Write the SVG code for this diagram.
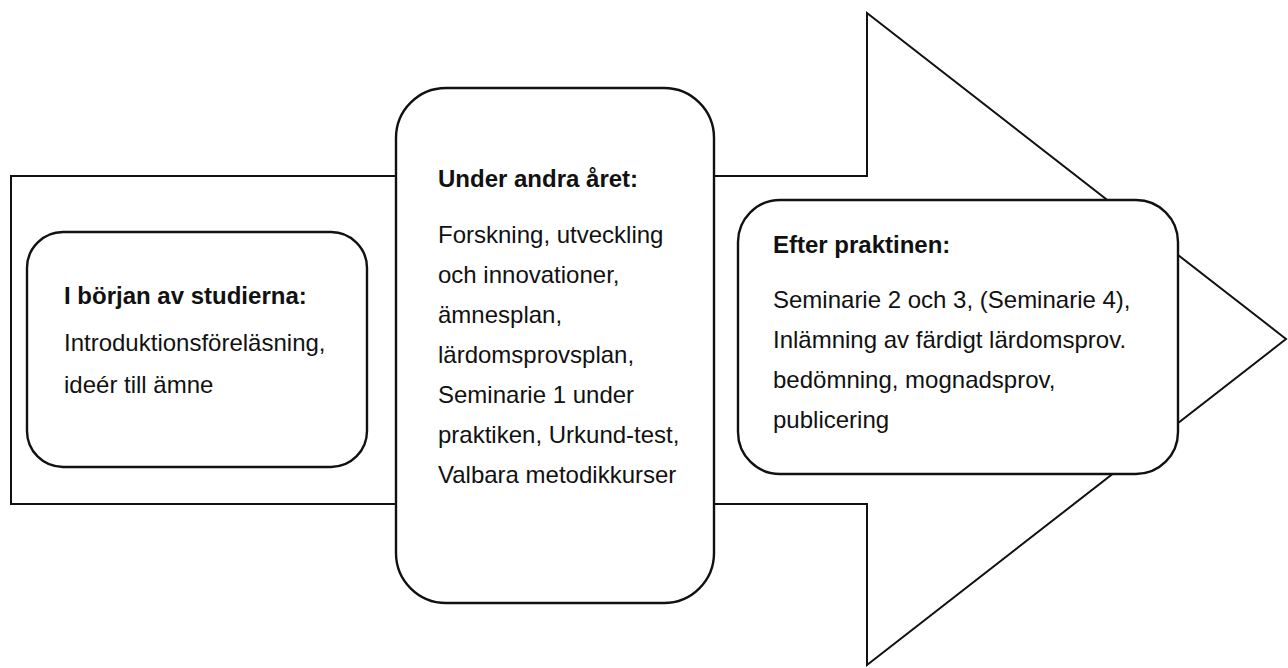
<svg xmlns="http://www.w3.org/2000/svg" width="1288" height="668" viewBox="0 0 1288 668">
  <style>
    .shape { fill: #ffffff; stroke: #111111; stroke-width: 2; stroke-linejoin: miter; }
    .box { fill: #ffffff; stroke: #111111; stroke-width: 2.4; }
    .t { font-family: "Liberation Sans", Arial, sans-serif; font-size: 24px; fill: #111111; }
    .b { font-weight: bold; }
  </style>
  <rect width="1288" height="668" fill="#ffffff"/>
  <g id="connectors">
    <polygon id="big-arrow" class="shape" points="11,176 867,176 867,13 1286,339 867,665 867,504 11,504"/>
  </g>
  <g id="node-start">
    <rect class="box" x="27" y="232" width="340" height="235" rx="36" ry="36"/>
    <text class="t b" x="64" y="304">I början av studierna:</text>
    <text class="t" x="64" y="351">Introduktionsföreläsning,</text>
    <text class="t" x="64" y="393">ideér till ämne</text>
  </g>
  <g id="node-second-year">
    <rect class="box" x="396" y="88" width="318" height="515" rx="50" ry="50"/>
    <text class="t b" x="438" y="187">Under andra året:</text>
    <text class="t" x="438" y="243">Forskning, utveckling</text>
    <text class="t" x="438" y="283">och innovationer,</text>
    <text class="t" x="438" y="323">ämnesplan,</text>
    <text class="t" x="438" y="363">lärdomsprovsplan,</text>
    <text class="t" x="438" y="403">Seminarie 1 under</text>
    <text class="t" x="438" y="443">praktiken, Urkund-test,</text>
    <text class="t" x="438" y="483">Valbara metodikkurser</text>
  </g>
  <g id="node-after-practice">
    <rect class="box" x="738" y="200" width="440" height="274" rx="42" ry="42"/>
    <text class="t b" x="773" y="253">Efter praktinen:</text>
    <text class="t" x="773" y="308">Seminarie 2 och 3, (Seminarie 4),</text>
    <text class="t" x="773" y="348">Inlämning av färdigt lärdomsprov.</text>
    <text class="t" x="773" y="388">bedömning, mognadsprov,</text>
    <text class="t" x="773" y="428">publicering</text>
  </g>
</svg>
